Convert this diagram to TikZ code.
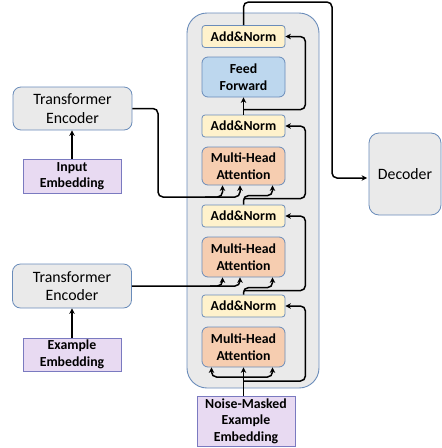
\documentclass[tikz,border=0pt]{standalone}
\usepackage{fontspec}
\setmainfont{Carlito}
\usetikzlibrary{arrows.meta,calc}
\definecolor{bord}{HTML}{6A8CBA}
\definecolor{embbord}{HTML}{7A7AC0}
\definecolor{anfill}{HTML}{FFF2CC}
\definecolor{fffill}{HTML}{BDD7EE}
\definecolor{mhafill}{HTML}{F6CDB0}
\definecolor{embfill}{HTML}{E8DAF2}
\definecolor{grayfill}{HTML}{EAEAEA}
\begin{document}
\begin{tikzpicture}[x=1pt,y=-1pt,
  box/.style={draw=bord, line width=0.8pt, align=center, inner sep=0pt},
  bfont/.style={font=\bfseries\fontsize{13.8}{16.5}\selectfont},
  rfont/.style={font=\fontsize{15.8}{18.5}\selectfont},
  an/.style={box, bfont, fill=anfill, rounded corners=3pt, minimum width=83pt, minimum height=22pt},
  ffbox/.style={box, bfont, fill=fffill, rounded corners=6pt, minimum width=83pt, minimum height=40pt},
  mha/.style={box, bfont, fill=mhafill, rounded corners=6pt, minimum width=83pt, minimum height=40pt},
  emb/.style={box, bfont, draw=embbord, fill=embfill, minimum width=98pt},
  enc/.style={box, rfont, fill=grayfill, rounded corners=8pt, minimum width=119pt, minimum height=43pt},
  conn/.style={line width=1.5pt, rounded corners=5pt},
  arr/.style={-{Stealth[length=5.5pt,width=5.5pt]}}
]
\useasboundingbox (0,0) rectangle (442,448);

% container
\node[draw=bord, line width=0.9pt, fill=grayfill, rounded corners=20pt, minimum width=132pt, minimum height=375pt] (cont) at (253,200.5) {};

% inner stack
\node[an] (an1) at (243.5,36.5) {Add\&Norm};
\node[ffbox] (ff) at (243.5,77) {Feed\\Forward};
\node[an] (an2) at (243.5,126) {Add\&Norm};
\node[mha, minimum height=38pt] (mha1) at (243.5,166) {Multi-Head\\Attention};
\node[an] (an3) at (243.5,216) {Add\&Norm};
\node[mha] (mha2) at (243.5,257) {Multi-Head\\Attention};
\node[an] (an4) at (243.5,306) {Add\&Norm};
\node[mha] (mha3) at (243.5,347) {Multi-Head\\Attention};

% bottom embedding
\node[emb, minimum height=50pt] (noise) at (246,421) {Noise-Masked\\Example\\Embedding};

% left side
\node[enc] (enc1) at (72.5,108.5) {Transformer\\Encoder};
\node[emb, minimum height=34pt] (inemb) at (72,176) {Input\\Embedding};
\node[enc, minimum height=44pt] (enc2) at (72,286) {Transformer\\Encoder};
\node[emb, minimum height=33pt] (exemb) at (72,354.5) {Example\\Embedding};

% decoder
\node[box, rfont, fill=grayfill, rounded corners=10pt, minimum width=72pt, minimum height=82pt] (dec) at (405,174) {Decoder};

% embeddings -> encoders
\draw[line width=1.2pt, arr] (inemb.north) -- (inemb.north |- enc1.south);
\draw[line width=1.2pt, arr] (exemb.north) -- (exemb.north |- enc2.south);

% output to decoder
\draw[conn, arr, shorten >=1.5pt] (an1.north) |- (332,2) |- ([yshift=-4pt]dec.west);

% feed forward block
\draw[conn, arr] (an2.north) -- (ff.south);
\draw[conn, arr] ($(an2.north)+(0,-5)$) -| ([xshift=20pt]an1.east) -- (an1.east);

% attention 1 (cross, encoder 1)
\draw[conn, arr] (an3.north) -- ++(0,-9) -| ([xshift=29pt]mha1.south);
\draw[conn, arr] ($(an3.north)+(0,-6)$) -| ([xshift=20pt]an2.east) -- (an2.east);
\draw[conn, arr] (enc1.east) -| (158,197) -| ([xshift=-21pt]mha1.south);
\draw[conn, arr] (205,197) -| ([xshift=-3.5pt]mha1.south);

% attention 2 (cross, encoder 2)
\draw[conn, arr] (an4.north) -- ++(0,-7) -| ([xshift=29pt]mha2.south);
\draw[conn, arr] ($(an4.north)+(0,-4)$) -| ([xshift=20pt]an3.east) -- (an3.east);
\draw[conn, arr] (enc2.east) -| ([xshift=-21pt]mha2.south);
\draw[conn, arr] (210,286) -| ([xshift=-3.5pt]mha2.south);

% attention 3 (self)
\draw[conn, arr] (mha3.south |- noise.north) -- (mha3.south);
\draw[conn, arr] (243.5,377) -| ([xshift=-32pt]mha3.south);
\draw[conn, arr] (243.5,377) -| ([xshift=29pt]mha3.south);
\draw[conn, arr] (243.5,381) -| ([xshift=20pt]an4.east) -- (an4.east);
\end{tikzpicture}
\end{document}
